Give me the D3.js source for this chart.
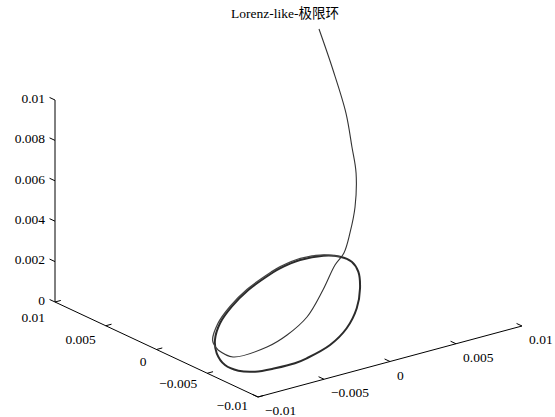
<!DOCTYPE html>
<html>
<head>
<meta charset="utf-8">
<script src="https://cdn.jsdelivr.net/npm/d3@7"></script>
<style>
  html, body { margin: 0; padding: 0; background: #fff; }
  svg text { font-family: "Liberation Serif", "Noto Sans CJK SC", serif; fill: #000; }
</style>
</head>
<body>
<div id="container"></div>
<script>
const title = "Lorenz-like-极限环";

// tick values and labels
const xTicks = [-0.01, -0.005, 0, 0.005, 0.01];
const xTickLabels = ["−0.01", "−0.005", "0", "0.005", "0.01"];
const yTicks = [0.01, 0.005, 0, -0.005, -0.01];
const yTickLabels = ["0.01", "0.005", "0", "−0.005", "−0.01"];
const zTicks = [0, 0.002, 0.004, 0.006, 0.008, 0.01];
const zTickLabels = ["0", "0.002", "0.004", "0.006", "0.008", "0.01"];

// transient part of the trajectory, from (0.01, 0.01, 0.01) down to the cycle
const transX = [0.01, 0.00937, 0.00889, 0.00859, 0.00861, 0.00797, 0.00734, 0.00686, 0.00603, 0.0035, 0.00027, -0.00233, -0.00443, -0.00709, -0.00709];
const transY = [0.01, 0.0078, 0.0059, 0.00492, 0.00454, 0.00381, 0.00349, 0.00346, 0.00326, 0.00116, -0.00147, -0.00289, -0.00364, -0.00375, -0.00228];
const transZ = [0.01, 0.0086, 0.007, 0.0056, 0.0044, 0.003, 0.0019, 0.001, 0.0006, 0.0003, 0.00015, 0.00005, 0, 0, 0];

// first lap, slightly outside the cycle before it settles
const lapX = [-0.00709, -0.0064, -0.00438, -0.00204, 0.00055, 0.00348, 0.00442, 0.00629, 0.00777, 0.00837];
const lapY = [-0.00228, -0.00085, 0.00126, 0.00311, 0.00479, 0.00623, 0.00661, 0.00701, 0.00662, 0.00581];
const lapZ = [0, 0, 0, 0, 0, 0, 0, 0, 0, 0];

// limit cycle
const cycleX = [-0.00621, -0.00425, -0.00198, 0.00053, 0.00338, 0.00429, 0.00611, 0.00767, 0.00837, 0.00842, 0.00771, 0.00608, 0.00387, 0.00133, -0.00119, -0.00368, -0.00476, -0.00623, -0.00754, -0.00824, -0.0083, -0.00749];
const cycleY = [-0.00083, 0.00122, 0.00302, 0.00465, 0.00605, 0.00642, 0.00681, 0.00654, 0.00581, 0.00472, 0.00315, 0.00086, -0.00169, -0.004, -0.00564, -0.00658, -0.00682, -0.00677, -0.00651, -0.00578, -0.00454, -0.00267];
const cycleZ = [0, 0, 0, 0, 0, 0, 0, 0, 0, 0, 0, 0, 0, 0, 0, 0, 0, 0, 0, 0, 0, 0];

const width = 555;
const height = 417;

const svg = d3.select("#container").append("svg")
  .attr("width", width)
  .attr("height", height);

// box corner (x=-0.01, y=-0.01, z=0) and the screen vectors of each full axis
const corner = [258, 397];
const ex = [264, -71];
const ey = [-203, -95];
const ez = [0, -202];

const x = d3.scaleLinear().domain([-0.01, 0.01]).range([0, 1]);
const y = d3.scaleLinear().domain([-0.01, 0.01]).range([0, 1]);
const z = d3.scaleLinear().domain([0, 0.01]).range([0, 1]);

function project(px, py, pz) {
  const a = x(px), b = y(py), c = z(pz);
  return [
    corner[0] + a * ex[0] + b * ey[0] + c * ez[0],
    corner[1] + a * ex[1] + b * ey[1] + c * ez[1],
  ];
}

function unit(v) {
  const l = Math.hypot(v[0], v[1]);
  return [v[0] / l, v[1] / l];
}

const tickLen = 6;
const axes = svg.append("g").attr("stroke", "#000").attr("stroke-width", 1).attr("fill", "none");

// axis lines
const axisLines = [
  [project(-0.01, 0.01, 0), project(-0.01, 0.01, 0.01)],
  [project(-0.01, 0.01, 0), project(-0.01, -0.01, 0)],
  [project(-0.01, -0.01, 0), project(0.01, -0.01, 0)],
];
axes.selectAll("line.axis")
  .data(axisLines)
  .join("line")
  .attr("class", "axis")
  .attr("x1", (d) => d[0][0])
  .attr("y1", (d) => d[0][1])
  .attr("x2", (d) => d[1][0])
  .attr("y2", (d) => d[1][1]);

function drawTicks(points, dir) {
  const u = unit(dir);
  axes.append("g")
    .selectAll("line")
    .data(points)
    .join("line")
    .attr("x1", (p) => p[0])
    .attr("y1", (p) => p[1])
    .attr("x2", (p) => p[0] + u[0] * tickLen)
    .attr("y2", (p) => p[1] + u[1] * tickLen);
}

const xTickPts = xTicks.map((t) => project(t, -0.01, 0));
const yTickPts = yTicks.map((t) => project(-0.01, t, 0));
const zTickPts = zTicks.map((t) => project(-0.01, 0.01, t));

drawTicks(xTickPts, ey);
drawTicks(yTickPts, ex);
drawTicks(zTickPts, ey);

const labels = svg.append("g").attr("font-size", 13.5);

labels.selectAll("text.z")
  .data(zTickPts)
  .join("text")
  .attr("class", "z")
  .attr("x", (p) => p[0] - 10)
  .attr("y", (p) => p[1] - 2)
  .attr("dy", "0.35em")
  .attr("text-anchor", "end")
  .text((p, i) => zTickLabels[i]);

// labels of the left floor axis sit a little closer to the axis towards the corner
labels.selectAll("text.y")
  .data(yTickPts)
  .join("text")
  .attr("class", "y")
  .attr("x", (p) => p[0] - 10)
  .attr("y", (p, i) => p[1] + 15 - 1.75 * i)
  .attr("dy", "0.35em")
  .attr("text-anchor", "end")
  .text((p, i) => yTickLabels[i]);

labels.selectAll("text.x")
  .data(xTickPts)
  .join("text")
  .attr("class", "x")
  .attr("x", (p) => p[0] + 7)
  .attr("y", (p) => p[1] + 13.5)
  .attr("dy", "0.35em")
  .attr("text-anchor", "start")
  .text((p, i) => xTickLabels[i]);

// trajectory
const transPts = transX.map((v, i) => project(v, transY[i], transZ[i]));
const lapPts = lapX.map((v, i) => project(v, lapY[i], lapZ[i]));
const cyclePts = cycleX.map((v, i) => project(v, cycleY[i], cycleZ[i]));

svg.append("path")
  .attr("d", d3.line().curve(d3.curveCatmullRomClosed)(cyclePts))
  .attr("fill", "none")
  .attr("stroke", "#2b2b2b")
  .attr("stroke-width", 2);

svg.append("path")
  .attr("d", d3.line().curve(d3.curveCatmullRom)(lapPts))
  .attr("fill", "none")
  .attr("stroke", "#444")
  .attr("stroke-width", 1.3);

svg.append("path")
  .attr("d", d3.line().curve(d3.curveCatmullRom)(transPts))
  .attr("fill", "none")
  .attr("stroke", "#333")
  .attr("stroke-width", 1.1);

svg.append("text")
  .attr("x", 285)
  .attr("y", 18)
  .attr("text-anchor", "middle")
  .attr("font-size", 13.5)
  .text(title);
</script>
</body>
</html>
